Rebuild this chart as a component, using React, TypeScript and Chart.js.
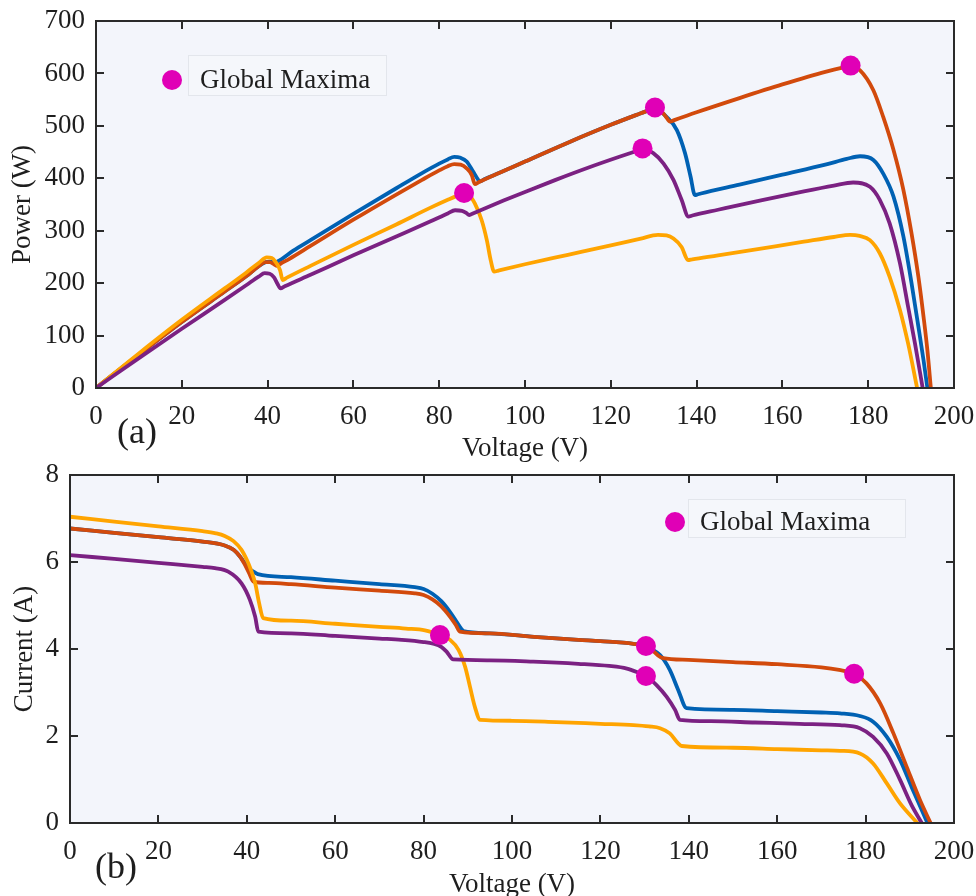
import React, { useEffect, useRef } from "react";
import { Chart, registerables } from "chart.js";

Chart.register(...registerables);

type Pt = [number, number];

// ---------- tick labels ----------
const voltageTicks = [0, 20, 40, 60, 80, 100, 120, 140, 160, 180, 200];
const powerTicks = [0, 100, 200, 300, 400, 500, 600, 700];
const currentTicks = [0, 2, 4, 6, 8];

// ---------- (a) Power vs Voltage ----------
const pvBlue: Pt[] = [
  [0, 0], [10, 64], [20, 126], [30, 184], [35, 213], [38, 233], [39.5, 240], [40.5, 241], [41.5, 240], [42.2, 241],
  [46, 262], [50, 282], [60, 332], [70, 381], [76, 410], [80, 428], [82, 436], [83.5, 441], [85, 439], [86.4, 432],
  [87.9, 413], [89.1, 397], [89.5, 394], [90.5, 398], [95, 414], [100, 432], [110, 468], [120, 502], [126, 521],
  [129, 530], [130.3, 533], [133, 517], [135.4, 492], [137.3, 448], [138.6, 403], [139.6, 368], [140.3, 369.5],
  [141, 371], [150, 388], [160, 407], [170, 426], [175, 437], [178.1, 442], [181.2, 435], [183.5, 409],
  [185.9, 365], [188.2, 289], [190.1, 200], [191.7, 117], [192.9, 53], [193.8, 0],
];
const pvOrange: Pt[] = [
  [0, 0], [10, 64], [20, 126], [30, 184], [35, 213], [38, 233], [39.5, 240], [40.5, 240], [41.5, 236], [42.2, 233],
  [43, 237], [45, 246], [50, 271], [60, 321], [70, 369], [76, 397], [80, 415], [82, 423], [83.5, 427], [85, 426],
  [86.4, 419], [87.6, 406], [88.3, 389], [89.3, 393], [95, 414], [100, 432], [110, 468], [120, 502], [126, 521],
  [129, 530], [130.3, 533], [131.5, 530], [132.8, 518], [133.8, 508], [134.8, 511], [140, 526], [150, 553],
  [160, 579], [170, 603], [174, 611], [175.9, 614], [178.1, 606], [181.2, 568], [183.5, 517], [185.9, 454],
  [188.2, 378], [190.1, 295], [191.7, 212], [192.9, 136], [193.8, 72], [194.6, 0],
];
const pvYellow: Pt[] = [
  [0, 0], [10, 66], [20, 130], [30, 190], [35, 220], [38, 239], [39.8, 249], [41, 248], [41.8, 241], [42.9, 225],
  [43.5, 206], [44.5, 210.5], [50, 233], [60, 273], [70, 312], [78, 344], [82, 359], [84, 366], [85.8, 371],
  [87, 368], [88.3, 352], [89.9, 320], [91.1, 282], [92, 244], [92.8, 222], [93.8, 224], [100, 236], [110, 254],
  [120, 272], [127, 285], [131, 292], [133, 291], [134.6, 285], [136.5, 269], [138, 244], [139, 245.5], [145, 253],
  [155, 266], [165, 279], [172, 288], [175.8, 292], [178, 290], [180.4, 282], [182.7, 257], [185, 212],
  [187.4, 149], [189.3, 85], [191.4, 0],
];
const pvPurple: Pt[] = [
  [0, 0], [10, 57], [20, 113], [30, 168], [35, 196], [38, 213], [39.3, 219], [40.5, 218], [41.5, 211], [42.3, 199],
  [43, 190], [44, 194], [50, 216], [60, 253], [70, 289], [78, 318], [82, 333], [83.7, 339], [85.3, 338],
  [86.3, 334], [87, 330], [88, 333.5], [95, 357.5], [100, 374], [107, 396.5], [115, 421], [122, 441],
  [125.5, 450.5], [127.4, 455.5], [129.9, 448], [132.3, 428], [134.6, 397], [136.5, 359], [138.1, 327],
  [139, 329], [145, 340], [155, 358], [165, 375], [172, 386], [176.5, 392], [180.4, 384], [182.7, 359], [185, 314],
  [187.4, 238], [189.3, 155], [190.9, 85], [192.7, 0],
];
const pvMaxima: Pt[] = [[85.8, 372], [127.4, 457], [130.3, 535], [175.9, 615]];

// ---------- (b) Current vs Voltage ----------
const ivBlue: Pt[] = [
  [0, 6.77], [10, 6.67], [20, 6.57], [30, 6.47], [35, 6.38], [37, 6.28], [38.5, 6.12], [39.5, 5.98], [40.5, 5.85],
  [41.5, 5.78], [42.5, 5.72], [50, 5.65], [60, 5.57], [70, 5.49], [78, 5.42], [80, 5.38], [82, 5.27], [84, 5.1],
  [86, 4.85], [87.5, 4.62], [88.5, 4.47], [89, 4.41], [95, 4.36], [105, 4.28], [115, 4.21], [120, 4.18],
  [127.5, 4.12], [130.3, 4.07], [131.5, 4.0], [133.5, 3.86], [135.7, 3.52], [137.6, 3.06], [139.5, 2.64],
  [150, 2.6], [160, 2.57], [170, 2.54], [174.2, 2.52], [178.7, 2.46], [181.7, 2.33], [184.8, 1.98], [187.8, 1.45],
  [190.4, 0.83], [192.7, 0.3], [194, 0],
];
const ivOrange: Pt[] = [
  [0, 6.77], [10, 6.67], [20, 6.57], [30, 6.47], [35, 6.38], [37, 6.28], [38.5, 6.12], [39.5, 5.95], [40.5, 5.75],
  [41.5, 5.55], [45, 5.52], [50, 5.49], [60, 5.41], [70, 5.34], [78, 5.28], [80, 5.24], [82, 5.14], [84, 4.98],
  [86, 4.74], [87.3, 4.55], [88.2, 4.4], [95, 4.36], [105, 4.28], [115, 4.21], [120, 4.18], [127.5, 4.12],
  [130.3, 4.07], [132, 3.95], [133.2, 3.84], [134.2, 3.79], [140, 3.75], [150, 3.7], [160, 3.65], [170, 3.58],
  [174, 3.52], [177.4, 3.43], [180.2, 3.21], [183.3, 2.75], [186.3, 2.06], [189.3, 1.29], [192.3, 0.53], [194.7, 0],
];
const ivYellow: Pt[] = [
  [0, 7.04], [10, 6.93], [20, 6.82], [30, 6.71], [33, 6.66], [35, 6.6], [37, 6.48], [38.8, 6.28], [40, 6.05],
  [41, 5.8], [41.9, 5.51], [42.8, 5.05], [43.7, 4.71], [50, 4.65], [60, 4.58], [70, 4.51], [76, 4.47],
  [80.3, 4.43], [83.7, 4.32], [86, 4.21], [87.9, 3.98], [89.4, 3.59], [90.5, 3.13], [91.6, 2.67], [92.8, 2.37],
  [100, 2.35], [110, 2.32], [120, 2.28], [127.5, 2.25], [131, 2.22], [133.5, 2.18], [135.7, 2.06], [137.6, 1.83],
  [138.4, 1.77], [150, 1.73], [160, 1.7], [170, 1.67], [174.2, 1.66], [178.7, 1.6], [181.7, 1.37], [184.8, 0.91],
  [187.8, 0.45], [191.7, 0],
];
const ivPurple: Pt[] = [
  [0, 6.16], [10, 6.07], [20, 5.98], [30, 5.89], [32.8, 5.86], [35.8, 5.78], [38.8, 5.51], [40.7, 5.13],
  [41.9, 4.74], [42.6, 4.4], [50, 4.36], [60, 4.3], [70, 4.24], [75, 4.21], [80, 4.16], [82.2, 4.12], [84, 4.05],
  [85.2, 3.94], [86.7, 3.76], [95, 3.74], [104.8, 3.71], [115, 3.66], [122, 3.61], [126, 3.55], [128.5, 3.46],
  [130.3, 3.38], [132.7, 3.17], [135, 2.9], [136.9, 2.6], [138, 2.37], [145, 2.34], [155, 2.31], [165, 2.28],
  [174.2, 2.25], [178.7, 2.18], [181.7, 1.98], [184.8, 1.6], [187.8, 0.99], [190.4, 0.41], [192.7, 0],
];
const ivMaxima: Pt[] = [[83.7, 4.32], [130.3, 4.07], [130.3, 3.38], [177.4, 3.43]];

// ---------- styles ----------
const BLUE = "#0061B3";
const ORANGE = "#D24A0C";
const YELLOW = "#FFA400";
const PURPLE = "#7B2182";
const MAGENTA = "#E000B6";
const BG = "#F3F5FB";
const INK = "#1e1e1e";
const FONT = '"Liberation Serif", "Times New Roman", Times, serif';
const FS = 27;

const lineDs = (data: Pt[], color: string, order: number) => ({
  data: data.map(([x, y]) => ({ x, y })),
  borderColor: color,
  backgroundColor: color,
  borderWidth: 3.8,
  pointRadius: 0,
  pointHoverRadius: 0,
  fill: false,
  cubicInterpolationMode: "monotone" as const,
  order,
});

const markerDs = (data: Pt[]) => ({
  data: data.map(([x, y]) => ({ x, y })),
  showLine: false,
  borderColor: MAGENTA,
  backgroundColor: MAGENTA,
  pointBackgroundColor: MAGENTA,
  pointBorderColor: MAGENTA,
  pointBorderWidth: 0,
  pointRadius: 10,
  pointHoverRadius: 10,
  order: 0,
});

const decorPlugin = {
  id: "decor",
  beforeDraw(chart: any) {
    const { ctx, chartArea: a } = chart;
    ctx.save();
    ctx.fillStyle = BG;
    ctx.fillRect(a.left, a.top, a.right - a.left, a.bottom - a.top);
    ctx.restore();
  },
  afterDatasetsDraw(chart: any) {
    const { ctx, chartArea: a } = chart;
    const xs = chart.scales.x;
    const ys = chart.scales.y;
    ctx.save();
    ctx.strokeStyle = "#2a2a2a";
    ctx.lineWidth = 2;
    ctx.strokeRect(a.left, a.top, a.right - a.left, a.bottom - a.top);
    const tl = 8;
    ctx.beginPath();
    xs.ticks.forEach((t: any) => {
      const px = Math.round(xs.getPixelForValue(t.value));
      ctx.moveTo(px, a.bottom);
      ctx.lineTo(px, a.bottom - tl);
      ctx.moveTo(px, a.top);
      ctx.lineTo(px, a.top + tl);
    });
    ys.ticks.forEach((t: any) => {
      const py = Math.round(ys.getPixelForValue(t.value));
      ctx.moveTo(a.left, py);
      ctx.lineTo(a.left + tl, py);
      ctx.moveTo(a.right, py);
      ctx.lineTo(a.right - tl, py);
    });
    ctx.stroke();
    ctx.restore();
  },
  afterDraw(chart: any, _args: any, opts: any) {
    const { ctx } = chart;
    ctx.save();
    const [bx, by, bw, bh] = opts.box;
    ctx.fillStyle = "#F5F7FB";
    ctx.fillRect(bx, by, bw, bh);
    ctx.strokeStyle = "#E3E6EC";
    ctx.lineWidth = 1;
    ctx.strokeRect(bx + 0.5, by + 0.5, bw, bh);
    ctx.fillStyle = MAGENTA;
    ctx.beginPath();
    ctx.arc(opts.marker[0], opts.marker[1], 10, 0, Math.PI * 2);
    ctx.fill();
    ctx.fillStyle = INK;
    ctx.font = `27px ${FONT}`;
    ctx.textAlign = "left";
    ctx.textBaseline = "alphabetic";
    ctx.fillText("Global Maxima", opts.text[0], opts.text[1]);
    ctx.font = `36px ${FONT}`;
    ctx.fillText(opts.panel, opts.panelPos[0], opts.panelPos[1]);
    ctx.restore();
  },
};

function makeConfig(p: {
  series: Pt[][];
  maxima: Pt[];
  yMax: number;
  yTicks: number[];
  yTitle: string;
  yWidth: number;
  yTitlePad: number;
  padTop: number;
  xHeight: number;
  xTitlePad: number;
  decor: any;
}) {
  const colors = [BLUE, ORANGE, YELLOW, PURPLE];
  const orders = [4, 3, 2, 1];
  return {
    type: "line" as const,
    data: {
      datasets: [
        ...p.series.map((s, i) => lineDs(s, colors[i], orders[i])),
        markerDs(p.maxima),
      ],
    },
    plugins: [decorPlugin],
    options: {
      responsive: false,
      animation: false as const,
      devicePixelRatio: 1,
      events: [],
      layout: { padding: { top: p.padTop, right: 22, left: 0, bottom: 0 } },
      plugins: {
        legend: { display: false },
        tooltip: { enabled: false },
        decor: p.decor,
      },
      scales: {
        x: {
          type: "linear" as const,
          min: 0,
          max: 200,
          afterBuildTicks: (s: any) => {
            s.ticks = voltageTicks.map((v) => ({ value: v }));
          },
          afterFit: (s: any) => {
            s.height = p.xHeight;
            s.paddingLeft = 0;
            s.paddingRight = 0;
          },
          ticks: {
            padding: 13,
            font: { size: FS, family: FONT },
            color: INK,
            maxRotation: 0,
            autoSkip: false,
          },
          grid: { display: false, drawTicks: false },
          border: { display: false },
          title: {
            display: true,
            text: "Voltage (V)",
            font: { size: FS, family: FONT },
            color: INK,
            padding: { top: 0, bottom: p.xTitlePad },
          },
        },
        y: {
          type: "linear" as const,
          min: 0,
          max: p.yMax,
          afterBuildTicks: (s: any) => {
            s.ticks = p.yTicks.map((v) => ({ value: v }));
          },
          afterFit: (s: any) => {
            s.width = p.yWidth;
            s.paddingTop = 0;
            s.paddingBottom = 0;
          },
          ticks: {
            padding: 11,
            font: { size: FS, family: FONT },
            color: INK,
          },
          grid: { display: false, drawTicks: false },
          border: { display: false },
          title: {
            display: true,
            text: p.yTitle,
            font: { size: FS, family: FONT },
            color: INK,
            padding: { top: p.yTitlePad, bottom: 0 },
          },
        },
      },
    },
  };
}

function ChartCanvas({ config, width, height, top }: { config: any; width: number; height: number; top: number }) {
  const ref = useRef<HTMLCanvasElement | null>(null);
  useEffect(() => {
    if (!ref.current) return;
    const chart = new Chart(ref.current, config);
    return () => chart.destroy();
  }, [config]);
  return (
    <canvas
      ref={ref}
      width={width}
      height={height}
      style={{ position: "absolute", left: 0, top, width, height, display: "block" }}
    />
  );
}

const topConfig = makeConfig({
  series: [pvBlue, pvOrange, pvYellow, pvPurple],
  maxima: pvMaxima,
  yMax: 700,
  yTicks: powerTicks,
  yTitle: "Power (W)",
  yWidth: 96,
  yTitlePad: 7,
  padTop: 21,
  xHeight: 77,
  xTitlePad: 0,
  decor: {
    box: [188, 55, 198, 40],
    marker: [172, 80],
    text: [200, 88],
    panel: "(a)",
    panelPos: [117, 443],
  },
});

const bottomConfig = makeConfig({
  series: [ivBlue, ivOrange, ivYellow, ivPurple],
  maxima: ivMaxima,
  yMax: 8,
  yTicks: currentTicks,
  yTitle: "Current (A)",
  yWidth: 70,
  yTitlePad: 9,
  padTop: 30,
  xHeight: 78,
  xTitlePad: 0,
  decor: {
    box: [688, 54, 217, 38],
    marker: [675, 77],
    text: [700, 85],
    panel: "(b)",
    panelPos: [95, 433],
  },
});

export default function App() {
  Chart.defaults.font.family = FONT;
  return (
    <div
      style={{
        position: "absolute",
        left: 0,
        top: 0,
        width: 976,
        height: 896,
        overflow: "hidden",
        background: "#ffffff",
      }}
    >
      <ChartCanvas config={topConfig} width={976} height={465} top={0} />
      <ChartCanvas config={bottomConfig} width={976} height={456} top={445} />
    </div>
  );
}
